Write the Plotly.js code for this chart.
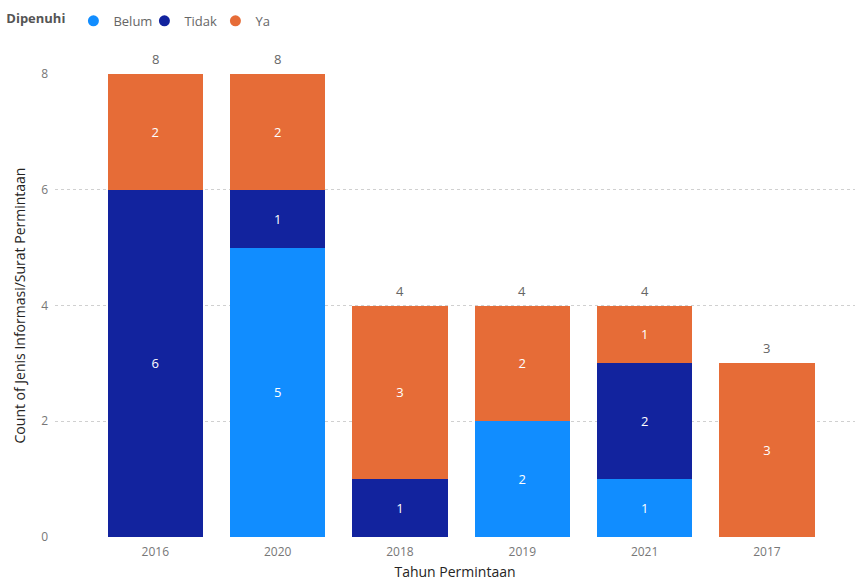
<!DOCTYPE html>
<html>
<head>
<meta charset="utf-8">
<script src="https://cdn.plot.ly/plotly-3.0.1.min.js"></script>
<style>html,body{margin:0;padding:0;background:#fff;}#chart{width:857px;height:583px;}</style>
</head>
<body>
<div id="chart"></div>
<script>
const years = ['2016', '2020', '2018', '2019', '2021', '2017'];
const belum = [0, 5, 0, 2, 1, 0];
const tidak = [6, 1, 1, 0, 2, 0];
const ya = [2, 2, 3, 2, 1, 3];
const legendTitle = 'Dipenuhi';
const seriesNames = ['Belum', 'Tidak', 'Ya'];
const colors = ['#118DFF', '#12239E', '#E66C37'];

const totals = years.map((_, i) => belum[i] + tidak[i] + ya[i]);
const font = '"Open Sans", "Noto Sans", sans-serif';

function barTrace(vals, idx) {
  return {
    type: 'bar', x: years, y: vals, name: seriesNames[idx],
    marker: {color: colors[idx]},
    text: vals.map(v => v ? String(v) : ''),
    textposition: 'inside', insidetextanchor: 'middle',
    textfont: {color: '#ffffff', size: 13, family: font},
    showlegend: false, hoverinfo: 'x+y+name'
  };
}
const traces = [barTrace(belum, 0), barTrace(tidak, 1), barTrace(ya, 2)];
seriesNames.forEach((n, i) => traces.push({
  type: 'scatter', mode: 'markers', x: [null], y: [null], name: n,
  marker: {color: colors[i], size: 11, symbol: 'circle'}, showlegend: true
}));

// total labels above each stack (category axis: annotation x uses category index)
const annotations = years.map((yr, i) => ({
  x: i, y: totals[i], xref: 'x', yref: 'y', text: String(totals[i]),
  showarrow: false, yanchor: 'middle', yshift: 15,
  font: {size: 13, color: '#666666', family: font}
}));

const layout = {
  width: 857, height: 583,
  margin: {l: 55, r: 2, t: 74, b: 46},
  paper_bgcolor: '#ffffff', plot_bgcolor: '#ffffff',
  font: {family: font, color: '#666666'},
  barmode: 'stack', bargap: 0.22,
  annotations: annotations,
  xaxis: {
    type: 'category', range: [-0.82, 5.72],
    showgrid: false, zeroline: false, showline: false,
    tickfont: {size: 12, color: '#777777'}, ticks: '', ticklabelstandoff: 6,
    title: {text: 'Tahun Permintaan', font: {size: 14, color: '#252423'}, standoff: 8}
  },
  yaxis: {
    range: [0, 8], dtick: 2, showgrid: true, gridcolor: '#d0d0d0', griddash: 'dot',
    zeroline: false, showline: false, ticks: '', ticklabelstandoff: 6,
    tickfont: {size: 12, color: '#777777'},
    title: {text: 'Count of Jenis Informasi/Surat Permintaan', font: {size: 14, color: '#252423'}, standoff: 12}
  },
  legend: {
    orientation: 'h', xref: 'container', yref: 'container',
    x: 0.005, y: 0.99, xanchor: 'left', yanchor: 'top', traceorder: 'normal',
    title: {text: '<b>' + legendTitle + '</b>', font: {size: 13, color: '#555555'}},
    font: {size: 13, color: '#666666'}, itemwidth: 30, entrywidth: 26, entrywidthmode: 'pixels',
    tracegroupgap: 0
  },
  showlegend: true
};
Plotly.newPlot('chart', traces, layout, {displayModeBar: false, staticPlot: true});
</script>
</body>
</html>
